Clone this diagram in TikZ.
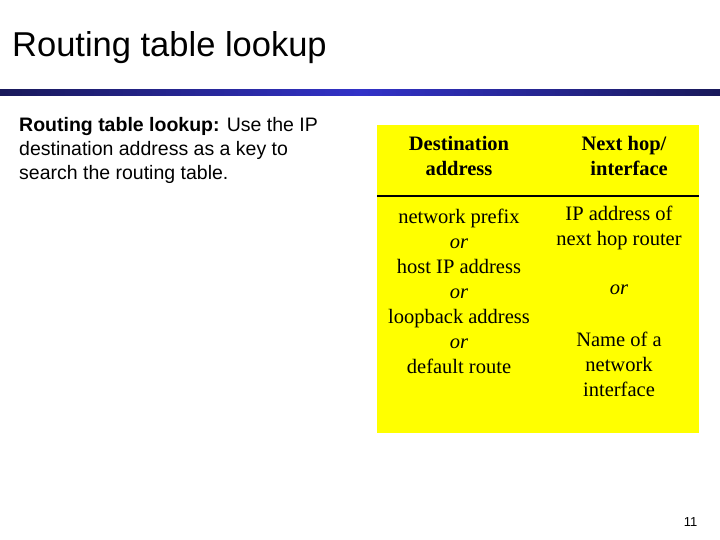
\documentclass[tikz,border=0pt]{standalone}
\usepackage{fontspec}
\setmainfont{Liberation Serif}
\newfontfamily\arial{Liberation Sans}
\definecolor{bardark}{RGB}{25,25,90}
\definecolor{barlite}{RGB}{50,50,200}
\definecolor{tblyel}{RGB}{255,255,0}
\begin{document}
\begin{tikzpicture}[x=1pt,y=-1pt,
  tbl/.style={font=\fontsize{20.5}{25}\selectfont,align=center,anchor=center},
  lft/.style={font=\arial\fontsize{19.5}{24}\selectfont,align=left,anchor=north west,inner sep=0}]
\useasboundingbox (0,0) rectangle (720,540);
\node[anchor=west,font=\arial\fontsize{34.5}{36}\selectfont,inner sep=0] (title) at (12,48) {Routing table lookup};
\shade[left color=bardark,right color=barlite] (0,90) rectangle (360.5,96);
\shade[left color=barlite,right color=bardark] (360,90) rectangle (720,96);
\node[lft] (desc) at (19,117) {\textbf{Routing table lookup:} Use the IP\\destination address as a key to\\search the routing table.};
\fill[tblyel] (377,125) rectangle (699,433);
\draw[line width=2.2pt] (377,196) -- (699,196);
\node[tbl,font=\bfseries\fontsize{20.5}{25}\selectfont] (h1) at (459,156) {Destination\\address};
\node[tbl,font=\bfseries\fontsize{20.5}{25}\selectfont] (h2) at (624,156) {Next hop/\\\ \ interface};
\node[tbl] (c1) at (459,291) {network prefix\\\textit{or}\\host IP address\\\textit{or}\\loopback address\\\textit{or}\\default route};
\node[tbl] (c2a) at (619,228) {IP address of\\next hop router};
\node[tbl] (c2b) at (619,290) {\textit{or}};
\node[tbl] (c2c) at (619,364) {Name of a\\network\\interface};
\node[font=\arial\fontsize{13}{15}\selectfont,anchor=east] (pg) at (701,522) {11};
\end{tikzpicture}
\end{document}
